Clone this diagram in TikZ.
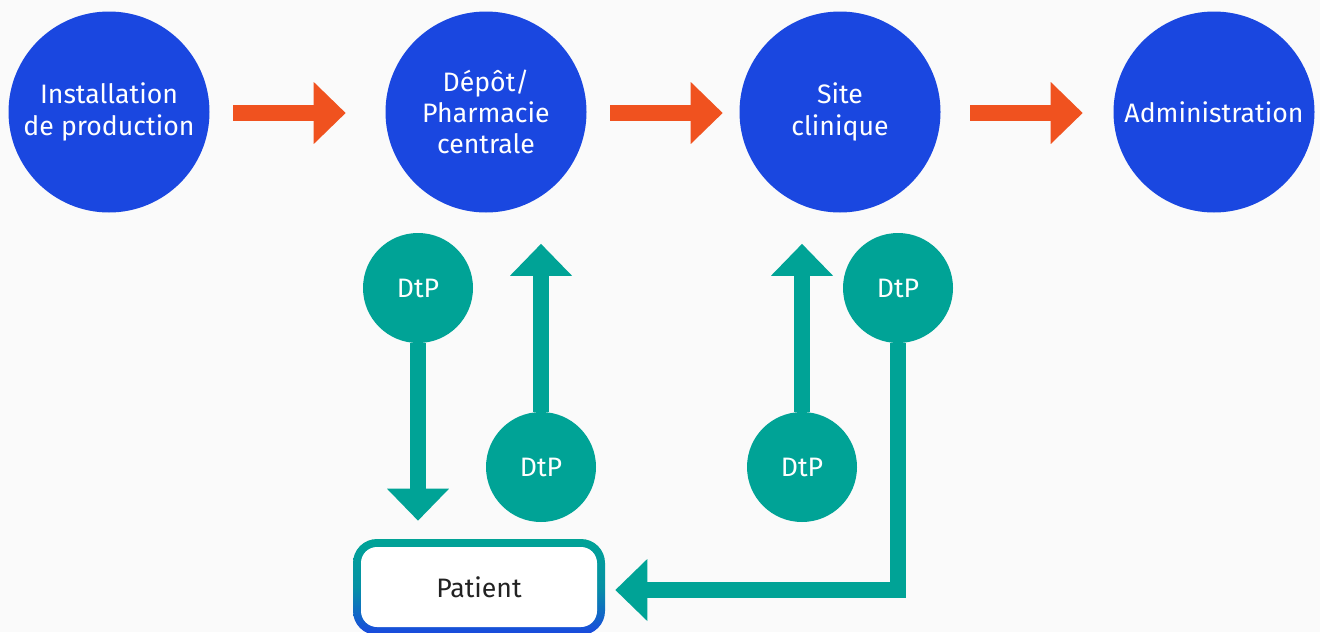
\documentclass[tikz,border=0pt]{standalone}
\usepackage{fontspec}
\setmainfont{Fira Sans}
\usepackage{tikz}
\usetikzlibrary{arrows.meta,positioning,calc}
\definecolor{paper}{HTML}{FAFAFA}
\definecolor{royal}{HTML}{1A47E0}
\definecolor{jade}{HTML}{00A396}
\definecolor{flame}{HTML}{F0521F}
\definecolor{ink}{HTML}{222222}

\begin{document}
\begin{tikzpicture}[x=0.75pt,y=-0.75pt,
   stage/.style={circle,fill=royal,text=white,inner sep=0pt,minimum size=150.75pt,
     align=center,font=\fontsize{20}{23.5}\selectfont},
   dtp/.style={circle,fill=jade,text=white,inner sep=0pt,minimum size=82.5pt,
     font=\fontsize{20}{24}\selectfont},
   patientbox/.style={rounded corners=18pt,minimum width=189pt,minimum height=72pt,
     top color=jade,bottom color=royal,middle color=jade!80!royal,text=ink,
     font=\fontsize{20}{24}\selectfont,
     path picture={\fill[white,rounded corners=12pt]
       ([shift={(6pt,6pt)}]path picture bounding box.south west) rectangle
       ([shift={(-6pt,-6pt)}]path picture bounding box.north east);}},
   flow/.style={flame,line width=12pt,-{Triangle[width=45pt,length=24pt]}},
   back/.style={jade,line width=12pt,-{Triangle[width=45pt,length=24pt]}}]
  \useasboundingbox (0,0) rectangle (1320,632);
  \clip (0,0) rectangle (1320,632);
  \fill[paper] (0,0) rectangle (1320,632);
  % supply chain
  \node[stage] (plant) at (109,112) {Installation\\de production};
  \node[stage] (depot) at (486,112) {Dépôt/\\Pharmacie\\centrale};
  \node[stage] (site) at (840,112) {Site\\clinique};
  \node[stage] (admin) at (1214,112) {Administration};
  \draw[flow] ($(plant.east)+(23.5,1)$) -- ($(depot.west)+(-39.5,1)$);
  \draw[flow] ($(depot.east)+(23.5,1)$) -- ($(site.west)+(-16.5,1)$);
  \draw[flow] ($(site.east)+(29.5,1)$) -- ($(admin.west)+(-30.5,1)$);
  % direct to patient
  \node[patientbox] (patient) at (479,587) {Patient};
  \node[dtp] (dtpout) at (418,288) {DtP};
  \node[dtp] (dtpback) at (541,467) {DtP};
  \node[dtp] (dtpsiteback) at (802,467) {DtP};
  \node[dtp] (dtpsite) at (898,288) {DtP};
  \draw[back] (dtpout.south) -- ($(dtpout.south |- patient.north)+(0,-18)$);
  \draw[back] (dtpback.north) -- ($(dtpback.north |- depot.south)+(0,31)$);
  \draw[back] (dtpsiteback.north) -- ($(dtpsiteback.north |- site.south)+(0,31)$);
  \draw[back] (dtpsite.south) |- ($(patient.east)+(10,3)$);
\end{tikzpicture}
\end{document}
